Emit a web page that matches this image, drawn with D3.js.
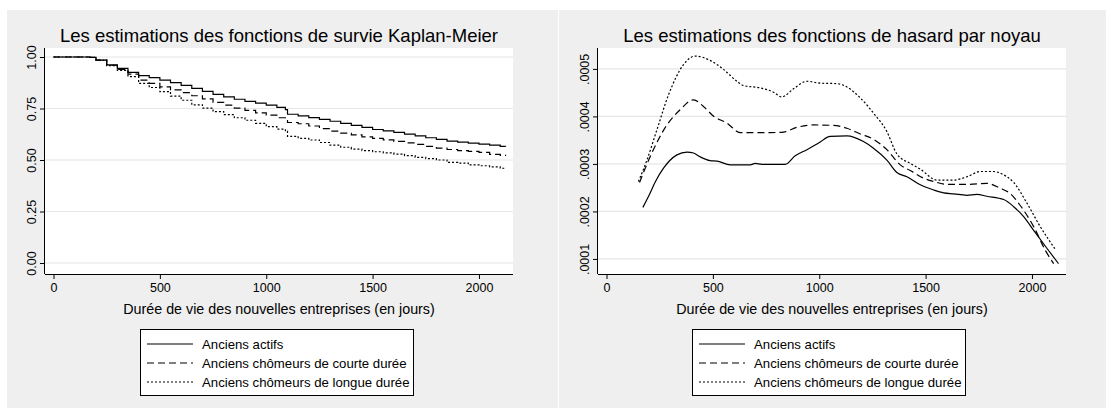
<!DOCTYPE html>
<html><head><meta charset="utf-8">
<script src="https://cdn.jsdelivr.net/npm/d3@7"></script>
<style>
body{margin:0;background:#fff;}
svg{display:block;font-family:"Liberation Sans",Arial,sans-serif;}
</style></head>
<body>
<svg id="chart" width="1106" height="408"></svg>
<script>
// ---- data ----
const seriesNames = ["Anciens actifs", "Anciens chômeurs de courte durée", "Anciens chômeurs de longue durée"];
const kmTitle = "Les estimations des fonctions de survie Kaplan-Meier";
const hzTitle = "Les estimations des fonctions de hasard par noyau";
const xTitle = "Durée de vie des nouvelles entreprises (en jours)";
const xTicks = [0, 500, 1000, 1500, 2000];
const kmYTicks = [0, 0.25, 0.5, 0.75, 1];
const hzYTicks = [0.0001, 0.0002, 0.0003, 0.0004, 0.0005];

const kmDays = [0,150,170,200,250,300,350,400,450,500,550,600,650,700,750,800,850,900,950,1000,1050,1090,1100,1150,1200,1250,1300,1350,1400,1450,1500,1550,1600,1650,1700,1750,1800,1850,1900,1950,2000,2050,2100,2125];
const kmActifs = [1,1,0.998,0.985,0.962,0.945,0.925,0.91,0.9,0.888,0.876,0.862,0.848,0.833,0.819,0.806,0.795,0.785,0.776,0.766,0.755,0.745,0.722,0.714,0.706,0.697,0.688,0.678,0.668,0.658,0.648,0.641,0.634,0.626,0.617,0.608,0.6,0.592,0.587,0.582,0.577,0.572,0.566,0.565];
const kmCourte = [1,1,0.998,0.985,0.96,0.94,0.917,0.888,0.872,0.855,0.84,0.827,0.812,0.797,0.78,0.766,0.752,0.741,0.729,0.718,0.705,0.695,0.682,0.676,0.665,0.652,0.64,0.63,0.622,0.612,0.605,0.598,0.59,0.583,0.576,0.566,0.558,0.551,0.546,0.542,0.537,0.527,0.522,0.52];
const kmLongue = [1,1,0.998,0.985,0.958,0.935,0.905,0.872,0.852,0.832,0.81,0.79,0.768,0.752,0.735,0.72,0.705,0.693,0.678,0.662,0.65,0.64,0.615,0.605,0.597,0.585,0.572,0.562,0.553,0.546,0.54,0.535,0.529,0.521,0.513,0.507,0.5,0.488,0.485,0.476,0.472,0.467,0.46,0.456];

const hzActifsDays = [171,200,229,268,331,378,409,440,487,519,582,676,699,730,840,887,942,997,1052,1130,1208,1255,1318,1365,1412,1475,1538,1585,1632,1694,1741,1788,1867,1914,1961,2008,2071,2125];
const hzActifs = [0.0002085,0.000234,0.000262,0.000291,0.000319,0.000325,0.000323,0.000315,0.000307,0.000306,0.000298,0.000298,0.000301,0.000299,0.000299,0.000317,0.00033,0.000344,0.000358,0.000359,0.000347,0.000333,0.000308,0.000282,0.000273,0.000256,0.000245,0.000239,0.000237,0.000234,0.000236,0.000232,0.000225,0.00021,0.000189,0.00016,0.000122,0.00009];
const hzCourteDays = [155,205,284,346,409,456,502,566,628,691,770,832,895,973,1067,1130,1193,1255,1318,1381,1428,1491,1538,1600,1694,1788,1850,1897,1944,2008,2063,2102];
const hzCourte = [0.000261,0.000315,0.000382,0.000414,0.000435,0.000421,0.000401,0.000386,0.000366,0.000366,0.000366,0.000367,0.000377,0.000382,0.000381,0.000375,0.000363,0.000352,0.00033,0.000298,0.000286,0.00027,0.000263,0.000257,0.000257,0.000259,0.000249,0.000238,0.000213,0.000168,0.000118,0.00009];
const hzLongueDays = [150,190,237,292,362,417,487,550,613,644,723,785,824,879,942,1005,1083,1130,1193,1255,1318,1365,1428,1475,1553,1632,1694,1757,1819,1867,1914,1977,2039,2110];
const hzLongue = [0.000263,0.000308,0.000372,0.000446,0.000509,0.000527,0.000518,0.000499,0.000474,0.000465,0.00046,0.000451,0.000441,0.000458,0.000474,0.00047,0.000469,0.000462,0.000439,0.000407,0.000368,0.000321,0.000301,0.000289,0.000266,0.000266,0.000273,0.000284,0.000284,0.000277,0.000261,0.000217,0.000168,0.00012];

const dashes = [null, "7,4", "2,2"];

// ---- drawing ----
const svg = d3.select("#chart");
const bg = "#efefef";
const FONT = "Liberation Sans, Arial, sans-serif";

function panel(opts) {
  const g = svg.append("g");
  g.append("rect").attr("x", opts.px).attr("y", 10).attr("width", opts.pw).attr("height", 398).attr("fill", bg);
  const x = d3.scaleLinear().domain([-40, 2160]).range([opts.left, opts.left + 468]);
  const y = d3.scaleLinear().domain(opts.yDomain).range([274, 48]);
  g.append("rect").attr("x", opts.left).attr("y", 48).attr("width", 468).attr("height", 226).attr("fill", "#fff");
  // grid
  g.selectAll("line.grid").data(opts.yTicks).enter().append("line")
    .attr("x1", opts.left).attr("x2", opts.left + 468)
    .attr("y1", d => y(d)).attr("y2", d => y(d))
    .attr("stroke", "#e6e6e6").attr("stroke-width", 1.2);
  // title
  g.append("text").attr("x", opts.left + 234).attr("y", 42).attr("text-anchor", "middle")
    .attr("font-size", 18.5).attr("fill", "#000").text(opts.title);
  // x axis
  const xa = g.append("g").attr("transform", "translate(0,274)")
    .call(d3.axisBottom(x).tickValues(xTicks).tickSize(5).tickPadding(4).tickFormat(d3.format("d")));
  xa.select(".domain").attr("d", `M${opts.left},0.5H${opts.left + 468}`).attr("stroke", "#000");
  xa.selectAll("text").attr("font-size", 12.5).attr("font-family", FONT).attr("fill", "#000");
  xa.selectAll("line").attr("stroke", "#000");
  // y axis
  const ya = g.append("g").attr("transform", `translate(${opts.left},0)`)
    .call(d3.axisLeft(y).tickValues(opts.yTicks).tickSize(5).tickFormat(opts.fmt));
  ya.select(".domain").attr("d", `M-0.5,48V274`).attr("stroke", "#000");
  ya.selectAll("line").attr("stroke", "#000");
  ya.selectAll("text").attr("font-size", 12.5).attr("font-family", FONT).attr("fill", "#000")
    .attr("x", null).attr("dy", null)
    .attr("text-anchor", "middle")
    .attr("transform", "translate(-9,0) rotate(-90)");
  // x title
  g.append("text").attr("x", opts.left + 234).attr("y", 314).attr("text-anchor", "middle")
    .attr("font-size", 14.3).attr("fill", "#000").text(xTitle);
  // lines
  const line = d3.line().x(d => x(d[0])).y(d => y(d[1])).curve(opts.curve);
  opts.series.forEach((s, i) => {
    g.append("path").datum(d3.zip(s.days, s.vals))
      .attr("d", line).attr("fill", "none").attr("stroke", "#000")
      .attr("stroke-width", 1.2).attr("stroke-dasharray", dashes[i]);
  });
  // legend
  const lx = opts.px + 133;
  g.append("rect").attr("x", lx + 0.5).attr("y", 329.5).attr("width", 273).attr("height", 66)
    .attr("fill", "#fff").attr("stroke", "#000").attr("stroke-width", 1);
  seriesNames.forEach((n, i) => {
    const yy = 344 + i * 19;
    g.append("line").attr("x1", lx + 7).attr("x2", lx + 53).attr("y1", yy).attr("y2", yy)
      .attr("stroke", "#000").attr("stroke-width", 1.2).attr("stroke-dasharray", dashes[i]);
    g.append("text").attr("x", lx + 62).attr("y", yy + 4.5).attr("font-size", 13.2).attr("fill", "#000").text(n);
  });
}

panel({
  px: 7, pw: 551, left: 45, title: kmTitle,
  yDomain: [-0.0534, 1.0437], yTicks: kmYTicks, fmt: d3.format(".2f"),
  curve: d3.curveStepAfter,
  series: [{days: kmDays, vals: kmActifs}, {days: kmDays, vals: kmCourte}, {days: kmDays, vals: kmLongue}]
});
panel({
  px: 559, pw: 547, left: 598, title: hzTitle,
  yDomain: [0.0000683, 0.000544], yTicks: hzYTicks, fmt: d => d3.format(".4f")(d).replace(/^0/, ""),
  curve: d3.curveMonotoneX,
  series: [{days: hzActifsDays, vals: hzActifs}, {days: hzCourteDays, vals: hzCourte}, {days: hzLongueDays, vals: hzLongue}]
});
</script>
</body></html>
